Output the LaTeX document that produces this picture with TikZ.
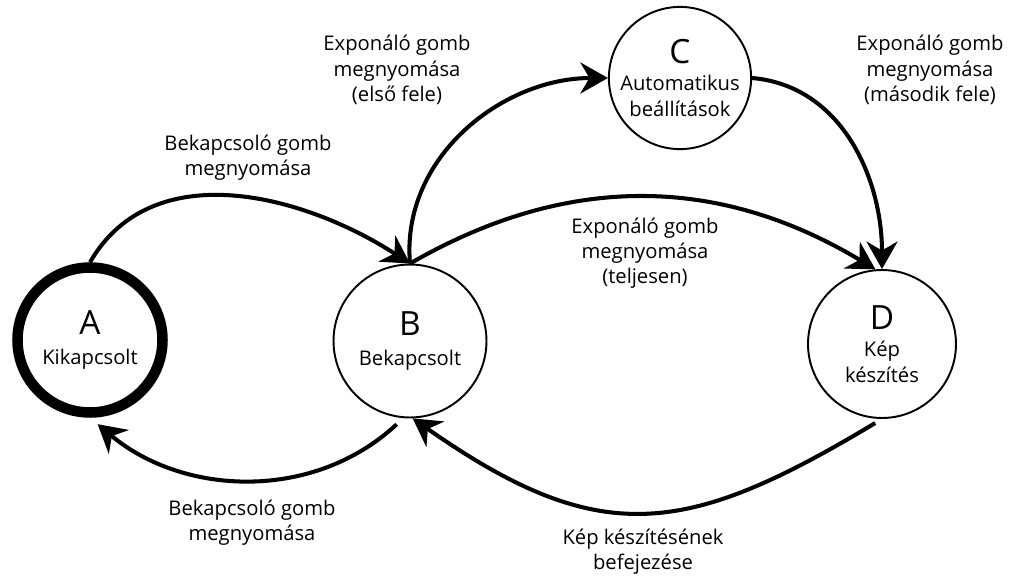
\documentclass[tikz,border=0pt]{standalone}
\usepackage{fontspec}
\setmainfont{Open Sans}
\usetikzlibrary{arrows.meta}

\begin{document}
\begin{tikzpicture}[x=0.02cm,y=0.02cm,
		statebox/.style = {draw,circle,line width=1.1pt,minimum size=3.06cm,inner sep=0pt,align=center,font=\fontsize{11.5}{14.5}\selectfont},
		offbox/.style = {statebox,line width=6pt,minimum size=2.9cm},
		lbl/.style = {align=center,font=\fontsize{11.5}{14.4}\selectfont},
		arr/.style = {line width=2.3pt,-{Stealth[length=0.55cm,width=0.62cm,inset=0.18cm]}}]
		\useasboundingbox (0,0) rectangle (1011,576);
		% states
		\node [offbox] (A) at (90,236) {{\fontsize{19}{21}\selectfont A}\\[3pt]Kikapcsolt};
		\node [statebox] (B) at (410,235) {{\fontsize{19}{21}\selectfont B}\\[3pt]Bekapcsolt};
		\node [statebox,minimum size=2.6cm] (C) at (680,498) {{\fontsize{19}{21}\selectfont C}\\[1pt]Automatikus\\beállítások};
		\node [statebox,minimum size=2.96cm] (D) at (882,232) {{\fontsize{19}{21}\selectfont D}\\[1pt]Kép\\készítés};
		% transitions
		\draw [arr] (A.north) to[out=60,in=147] (B.north);
		\draw [arr,shorten <=0.18cm,shorten >=0.2cm] (B.265) to[out=223,in=-40] (A.south);
		\draw [arr] (B.north) to[out=95,in=180] (C.west);
		\draw [arr] (C.east) to[out=-5,in=90] (D.north);
		\draw [arr] (B.north) to[out=30,in=149] (D.95);
		\draw [arr,shorten <=0.16cm,looseness=1.25] (D.south) to[out=211,in=-35] (B.272);
		% labels
		\node [lbl] (l1) at (248,418) {Bekapcsoló gomb\\megnyomása};
		\node [lbl] (l2) at (252,53) {Bekapcsoló gomb\\megnyomása};
		\node [lbl] (l3) at (397,506) {Exponáló gomb\\megnyomása\\(első fele)};
		\node [lbl] (l4) at (930,506) {Exponáló gomb\\megnyomása\\(második fele)};
		\node [lbl] (l5) at (645,323) {Exponáló gomb\\megnyomása\\(teljesen)};
		\node [lbl] (l6) at (643,24) {Kép készítésének\\befejezése};
	\end{tikzpicture}
\end{document}
